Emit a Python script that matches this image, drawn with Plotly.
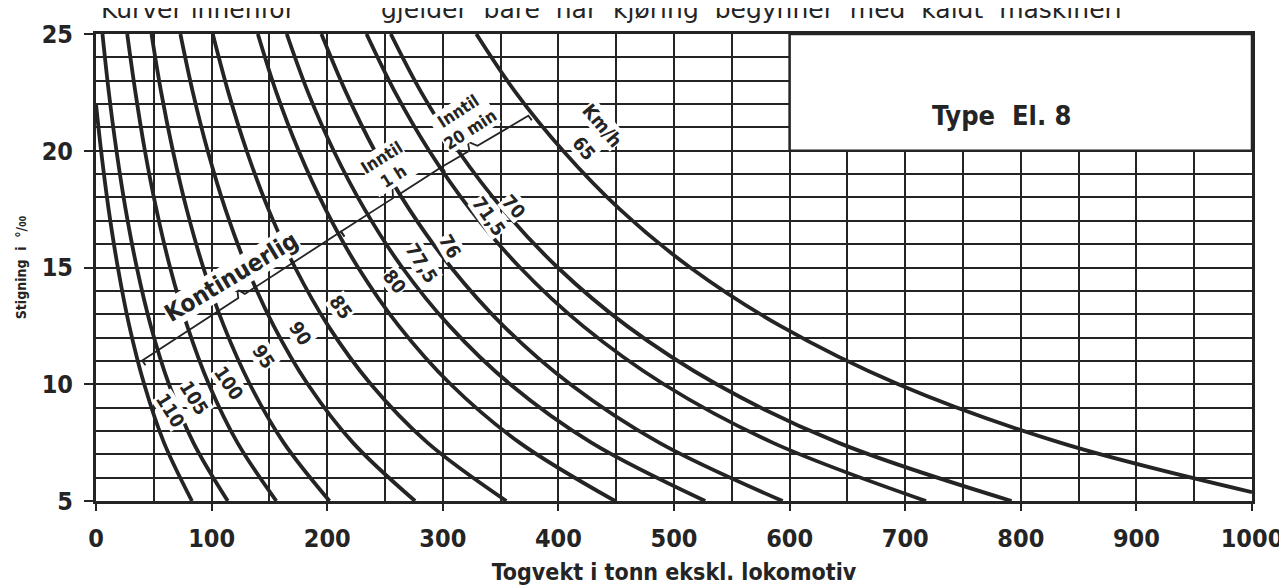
import plotly.graph_objects as go

# ---------------- values ----------------
X_TICKS = [0, 100, 200, 300, 400, 500, 600, 700, 800, 900, 1000]
Y_TICKS = [5, 10, 15, 20, 25]

GRAD = [5, 7.5, 10, 12.5, 15, 17.5, 20, 22.5, 25]          # gradient (per mille)

# train weight (t) of each speed curve at the gradients in GRAD
Y_110 = [5, 7.5, 10, 12.5, 15, 17.5, 20, 22]
X_110 = [83, 58.8, 41.7, 28.8, 18.9, 10.9, 4.4, 0]
X_105 = [114, 84.2, 63.1, 47.4, 35.3, 25.6, 17.7, 11.1, 5.6]
X_100 = [156, 122.3, 97.6, 78.9, 64.1, 52.2, 42.3, 34.1, 27]
X_95 = [202, 162.3, 133.1, 110.6, 92.8, 78.4, 66.5, 56.4, 48]
X_90 = [276, 222.2, 183.2, 153.7, 130.5, 111.9, 96.6, 83.8, 73]
X_85 = [355, 286.7, 237.8, 200.9, 172.2, 149.1, 130.3, 114.5, 101]
X_80 = [449, 366.4, 306.8, 261.9, 226.7, 198.5, 175.3, 156, 140]
X_775 = [527, 428.5, 358.3, 305.8, 264.9, 232.3, 205.6, 183.4, 165]
X_76 = [594, 487.1, 410.3, 352.4, 307.2, 270.9, 241.1, 216.3, 195]
X_715 = [718, 585.3, 491.2, 421.1, 366.8, 323.5, 288.2, 258.8, 234]
X_70 = [792, 642, 536.9, 459.2, 399.4, 351.9, 313.3, 281.4, 255]
Y_65 = [5.38, 7.5, 10, 12.5, 15, 17.5, 20, 22.5, 25]
X_65 = [1000, 834, 694, 592, 514, 453, 404, 363, 329]

# speed labels (km/h) and where they are written
SPEED_TEXT = ["110", "105", "100", "95", "90", "85", "80", "77,5", "76", "71,5", "70", "65", "Km/h"]
SPEED_LX = [64.5, 85, 115, 145, 177, 212, 259, 282, 306, 340, 362, 422, 438]
SPEED_LY = [8.9, 9.4, 10.05, 11.2, 12.2, 13.3, 14.4, 15.2, 15.9, 17.2, 17.6, 20.1, 21.1]
SPEED_ANG = [58, 58, 56, 57, 57, 55, 52, 58, 60, 55, 48, 50, 50]

# duty-limit braces (Kontinuerlig / Inntil 1 h / Inntil 20 min)
BRACE_K_X = [42.8, 40, 123.1, 122.2, 128.8, 212, 214.9]
BRACE_K_Y = [10.81, 11.02, 13.69, 14.06, 13.87, 16.54, 16.33]
BRACE_1H_X = [214.9, 212, 257, 256.2, 263, 299, 301.9]
BRACE_1H_Y = [16.33, 16.54, 17.97, 18.61, 18.16, 19.3, 19.1]
BRACE_20_X = [301.9, 299, 323, 321.6, 330, 374, 377]
BRACE_20_Y = [19.1, 19.3, 20.0, 20.39, 20.21, 21.5, 21.3]

# type box (x0, x1, y0, y1) in data units
BOX = [600, 1000, 20, 25]

INK = "#242424"
FONT = "DejaVu Sans Condensed, Liberation Sans Narrow, DejaVu Sans, sans-serif"
FONT_WIDE = "DejaVu Sans, sans-serif"

curves = [
    (X_110, Y_110), (X_105, GRAD), (X_100, GRAD), (X_95, GRAD), (X_90, GRAD),
    (X_85, GRAD), (X_80, GRAD), (X_775, GRAD), (X_76, GRAD), (X_715, GRAD),
    (X_70, GRAD), (X_65, Y_65),
]

fig = go.Figure()
for xs, ys in curves:
    fig.add_trace(go.Scatter(
        x=xs, y=ys, mode="lines",
        line=dict(color=INK, width=3.8, shape="spline", smoothing=1.0),
        hoverinfo="skip", showlegend=False))

for bx, by in [(BRACE_K_X, BRACE_K_Y), (BRACE_1H_X, BRACE_1H_Y), (BRACE_20_X, BRACE_20_Y)]:
    fig.add_trace(go.Scatter(
        x=bx, y=by, mode="lines", line=dict(color=INK, width=1.8),
        hoverinfo="skip", showlegend=False))

# box for the locomotive type
fig.add_shape(type="rect", xref="x", yref="y", x0=BOX[0], x1=BOX[1], y0=BOX[2], y1=BOX[3],
              fillcolor="white", line=dict(color=INK, width=2.5), layer="above")

ann = []
for t, x, y, a in zip(SPEED_TEXT, SPEED_LX, SPEED_LY, SPEED_ANG):
    ann.append(dict(x=x, y=y, xref="x", yref="y", text="<b>%s</b>" % t, showarrow=False,
                    textangle=a, font=dict(size=19, color=INK, family=FONT),
                    bgcolor="white", borderpad=0))

ann.append(dict(x=117, y=14.6, xref="x", yref="y", text="<b>Kontinuerlig</b>", showarrow=False,
                textangle=-31, font=dict(size=24, color=INK, family=FONT), bgcolor="white", borderpad=0))
ann.append(dict(x=252, y=19.3, xref="x", yref="y", text="<b>Inntil<br>1 h</b>", showarrow=False,
                textangle=-32, font=dict(size=17, color=INK, family=FONT), bgcolor="white", borderpad=0))
ann.append(dict(x=319, y=21.3, xref="x", yref="y", text="<b>Inntil<br>20 min</b>", showarrow=False,
                textangle=-33, font=dict(size=17, color=INK, family=FONT), bgcolor="white", borderpad=0))
ann.append(dict(x=783, y=21.5, xref="x", yref="y", text="<b>Type  El. 8</b>", showarrow=False,
                font=dict(size=27, color=INK, family=FONT)))

# title line, cut by the top edge of the page as in the scan
ann.append(dict(x=0.003, y=1.052, xref="paper", yref="paper", xanchor="left", yanchor="middle",
                text="Kurver innenfor", showarrow=False, font=dict(size=25, color=INK, family=FONT_WIDE)))
ann.append(dict(x=0.245, y=1.052, xref="paper", yref="paper", xanchor="left", yanchor="middle",
                text="gjelder  bare  når  kjøring  begynner  med  kaldt  maskineri", showarrow=False,
                font=dict(size=25, color=INK, family=FONT_WIDE)))

fig.update_layout(
    width=1287, height=585,
    margin=dict(l=85, r=39, t=25, b=85),
    paper_bgcolor="white", plot_bgcolor="white",
    showlegend=False, annotations=ann,
    font=dict(family=FONT, color=INK),
)

fig.update_xaxes(
    range=[0, 1000], tickvals=X_TICKS, ticktext=["<b>%d</b>" % v for v in X_TICKS],
    ticks="outside", ticklen=7, tickwidth=2, tickcolor=INK,
    showgrid=True, gridcolor=INK, gridwidth=1.8,
    minor=dict(tick0=0, dtick=50, showgrid=True, gridcolor=INK, gridwidth=1.8),
    showline=True, linecolor=INK, linewidth=3, mirror=True, zeroline=False,
    tickfont=dict(size=25, color=INK, family=FONT), ticklabelstandoff=6,
    title=dict(text="<b>Togvekt i tonn ekskl. lokomotiv</b>", font=dict(size=23, color=INK, family=FONT), standoff=12),
)
fig.update_yaxes(
    range=[5, 25], tickvals=Y_TICKS, ticktext=["<b>%d</b>" % v for v in Y_TICKS],
    ticks="outside", ticklen=9, tickwidth=2, tickcolor=INK,
    showgrid=True, gridcolor=INK, gridwidth=1.8,
    minor=dict(tick0=5, dtick=1, showgrid=True, gridcolor=INK, gridwidth=1.8),
    showline=True, linecolor=INK, linewidth=3, mirror=True, zeroline=False,
    tickfont=dict(size=25, color=INK, family=FONT), ticklabelstandoff=6,
    title=dict(text="<b>Stigning  i  °/₀₀</b>", font=dict(size=14, color=INK, family=FONT), standoff=12),
)

fig.write_html("out.html")
